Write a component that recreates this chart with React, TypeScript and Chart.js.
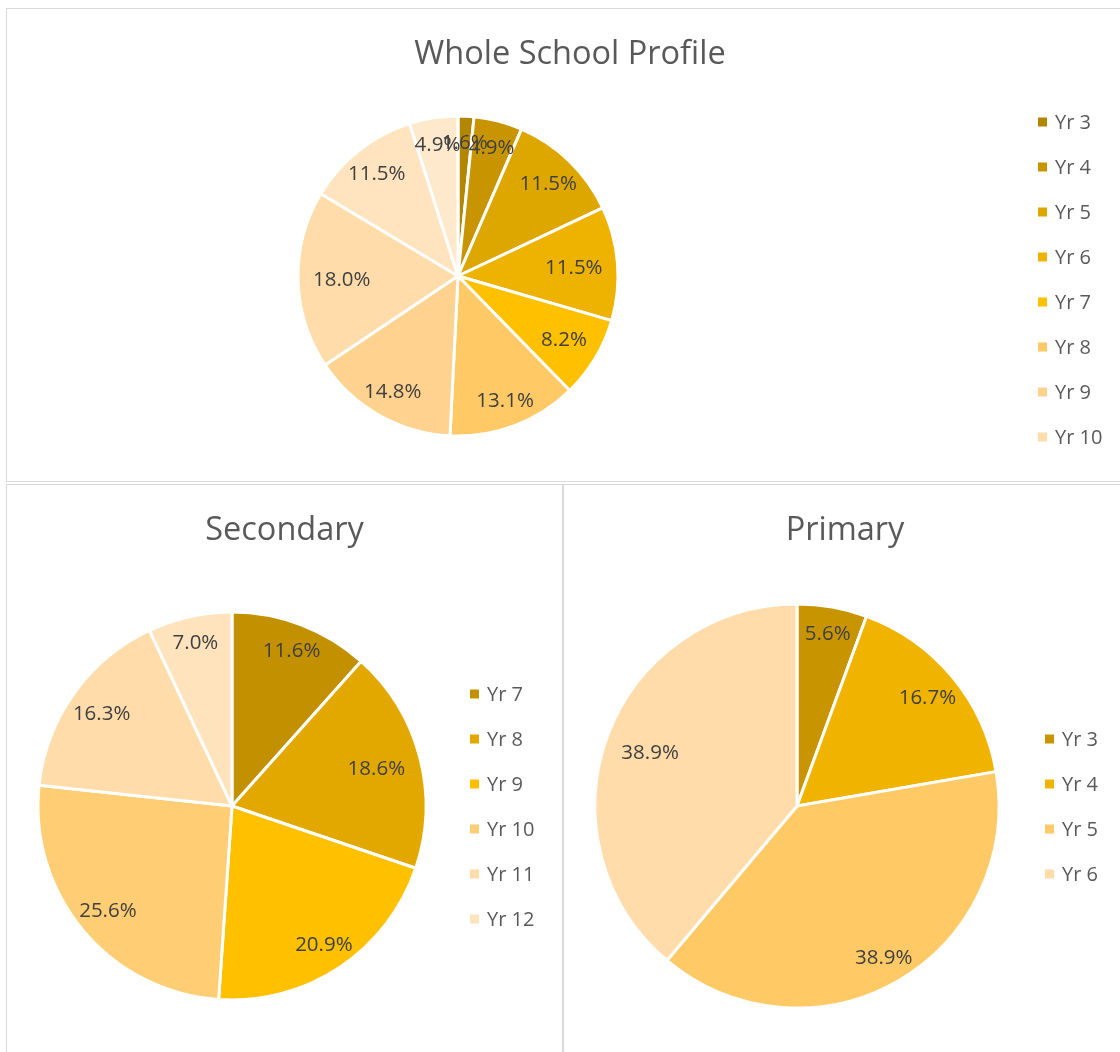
import React, { useEffect, useRef } from 'react';
import { Chart, registerables } from 'chart.js';

Chart.register(...registerables);

const wholeLabels = ['Yr 3', 'Yr 4', 'Yr 5', 'Yr 6', 'Yr 7', 'Yr 8', 'Yr 9', 'Yr 10', 'Yr 11', 'Yr 12'];
const wholeValues = [1.6, 4.9, 11.5, 11.5, 8.2, 13.1, 14.8, 18.0, 11.5, 4.9];
const wholeColors = ['#b38600', '#c89500', '#dea700', '#eeb200', '#ffc000', '#ffc966', '#ffd28f', '#ffdcaa', '#ffe4bf', '#ffe9cc'];

const secondaryLabels = ['Yr 7', 'Yr 8', 'Yr 9', 'Yr 10', 'Yr 11', 'Yr 12'];
const secondaryValues = [11.6, 18.6, 20.9, 25.6, 16.3, 7.0];
const secondaryColors = ['#c39000', '#e2a800', '#ffc000', '#ffcd74', '#ffdcaa', '#ffe3bc'];

const primaryLabels = ['Yr 3', 'Yr 4', 'Yr 5', 'Yr 6'];
const primaryValues = [5.6, 16.7, 38.9, 38.9];
const primaryColors = ['#c89500', '#f0b400', '#ffc966', '#ffdcaa'];

const FONT = '"Open Sans", "Noto Sans", sans-serif';

type PieProps = {
  labels: string[];
  values: number[];
  colors: string[];
  title: string;
  width: number;
  height: number;
  cx: number;
  cy: number;
  r: number;
  titleY: number;
  legendX: number;
  legendY: number;
  legendCount: number;
};

function PieChart(p: PieProps) {
  const ref = useRef<HTMLCanvasElement>(null);
  useEffect(() => {
    const decor = {
      id: 'decor',
      afterDatasetsDraw(chart: any) {
        const ctx = chart.ctx as CanvasRenderingContext2D;
        ctx.save();
        const meta = chart.getDatasetMeta(0);
        ctx.font = `20.5px ${FONT}`;
        ctx.fillStyle = '#404040';
        ctx.textAlign = 'center';
        ctx.textBaseline = 'middle';
        meta.data.forEach((arc: any, i: number) => {
          const { x, y, startAngle, endAngle, outerRadius } = arc.getProps(['x', 'y', 'startAngle', 'endAngle', 'outerRadius'], true);
          const mid = (startAngle + endAngle) / 2;
          const sx = Math.cos(mid);
          const sy = Math.sin(mid);
          const txt = Number(chart.data.datasets[0].data[i]).toFixed(1) + '%';
          const hw = ctx.measureText(txt).width / 2;
          const hh = 11;
          const ext = Math.min(Math.abs(sx) > 1e-6 ? hw / Math.abs(sx) : 1e9, Math.abs(sy) > 1e-6 ? hh / Math.abs(sy) : 1e9);
          const d = outerRadius - 15 - ext;
          ctx.fillText(txt, x + sx * d, y + sy * d + 1);
        });
        ctx.font = `32.5px ${FONT}`;
        ctx.fillStyle = '#595959';
        ctx.textAlign = 'center';
        ctx.fillText(p.title, chart.width / 2, p.titleY);
        ctx.font = `20px ${FONT}`;
        ctx.textAlign = 'left';
        const bg = chart.data.datasets[0].backgroundColor as string[];
        for (let i = 0; i < Math.min(p.legendCount, chart.data.labels.length); i++) {
          const ly = p.legendY + 45 * i;
          ctx.fillStyle = bg[i];
          ctx.fillRect(p.legendX, ly - 4.5, 9, 9);
          ctx.fillStyle = '#595959';
          ctx.fillText(String(chart.data.labels[i]), p.legendX + 17, ly + 1);
        }
        ctx.restore();
      },
    };
    const chart = new Chart(ref.current!, {
      type: 'pie',
      data: {
        labels: p.labels,
        datasets: [
          {
            data: p.values,
            backgroundColor: p.colors,
            borderColor: '#ffffff',
            borderWidth: 3,
          },
        ],
      },
      options: {
        responsive: false,
        animation: false,
        radius: p.r,
        layout: {
          padding: {
            left: p.cx - p.r,
            top: p.cy - p.r,
            right: p.width - p.cx - p.r,
            bottom: p.height - p.cy - p.r,
          },
        },
        plugins: {
          legend: { display: false },
          title: { display: false },
          tooltip: { enabled: false },
        },
      } as any,
      plugins: [decor],
    });
    return () => chart.destroy();
  }, []);
  return <canvas ref={ref} width={p.width} height={p.height} style={{ display: 'block' }} />;
}

const panelStyle = (left: number, top: number, width: number, height: number): React.CSSProperties => ({
  position: 'absolute',
  left,
  top,
  width,
  height,
  border: '1px solid #d9d9d9',
  background: '#ffffff',
  overflow: 'hidden',
});

export default function App() {
  useEffect(() => {
    document.body.style.margin = '0';
    document.body.style.background = '#ffffff';
  }, []);
  return (
    <div style={{ position: 'relative', width: 1120, height: 1052, overflow: 'hidden', background: '#fff' }}>
      <div style={panelStyle(6, 8, 1126, 472)}>
        <PieChart
          labels={wholeLabels}
          values={wholeValues}
          colors={wholeColors}
          title="Whole School Profile"
          width={1126}
          height={472}
          cx={451}
          cy={267}
          r={160}
          titleY={46}
          legendX={1031}
          legendY={113}
          legendCount={8}
        />
      </div>
      <div style={panelStyle(6, 484, 555, 600)}>
        <PieChart
          labels={secondaryLabels}
          values={secondaryValues}
          colors={secondaryColors}
          title="Secondary"
          width={555}
          height={600}
          cx={225}
          cy={321}
          r={194}
          titleY={46}
          legendX={463}
          legendY={209}
          legendCount={6}
        />
      </div>
      <div style={panelStyle(563, 484, 562, 600)}>
        <PieChart
          labels={primaryLabels}
          values={primaryValues}
          colors={primaryColors}
          title="Primary"
          width={562}
          height={600}
          cx={233}
          cy={321}
          r={202}
          titleY={46}
          legendX={481}
          legendY={254}
          legendCount={4}
        />
      </div>
    </div>
  );
}
